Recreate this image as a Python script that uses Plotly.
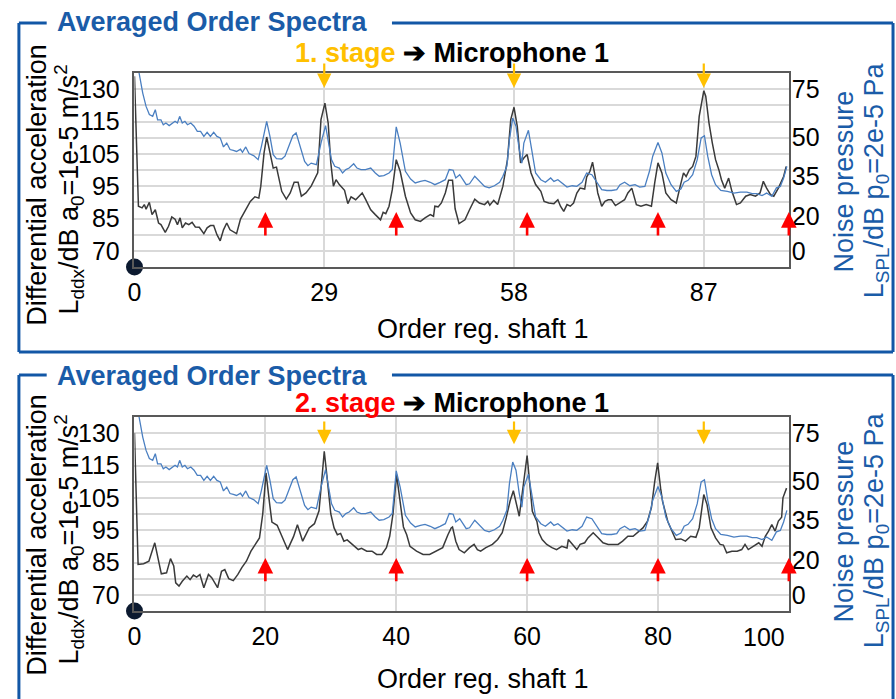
import plotly.graph_objects as go

# ---------------- data ----------------
# Noise pressure, Microphone 1 (right axis units), shared by both panels
noise_order = [0.7, 1.26, 1.77, 2.27, 2.78, 3.18, 3.53, 4.04, 4.4, 4.8, 5.3, 5.8, 6.2, 6.56, 6.9, 7.3, 7.7, 8.1, 8.6, 9.1,
               9.6, 10.1, 10.6, 11.1, 11.6, 12.1, 12.6, 13.1, 13.6, 14.1, 14.6, 15.1, 15.6, 16.2, 16.5, 17.0, 17.5, 18.2, 18.9, 19.4,
               20.2, 20.7, 21.2, 21.7, 22.5, 23.0, 23.6, 24.2, 24.7, 25.2, 26.0, 26.5, 27.0, 27.8, 28.5, 29.2, 29.6, 30.1, 30.6, 31.3,
               31.8, 32.3, 32.8, 33.5, 34.0, 34.6, 35.3, 36.1, 36.8, 37.4, 38.1, 38.9, 39.4, 40.0, 40.6, 41.4, 42.2, 42.9, 43.7, 44.4,
               45.2, 45.9, 46.7, 47.5, 48.1, 48.7, 49.1, 49.7, 50.7, 51.2, 52.0, 52.7, 53.5, 54.2, 55.0, 55.8, 56.3, 56.9, 57.3, 57.8,
               58.3, 58.8, 59.2, 59.5, 60.2, 60.7, 61.3, 62.1, 62.8, 63.6, 64.1, 64.7, 65.3, 66.1, 66.9, 67.6, 68.4, 69.1, 69.9, 70.7,
               71.4, 72.2, 72.9, 73.7, 74.2, 74.9, 75.7, 76.5, 77.2, 78.0, 78.7, 79.2, 80.0, 80.6, 81.2, 82.0, 82.8, 83.5, 84.0, 84.6,
               85.3, 86.0, 86.6, 87.1, 87.6, 88.2, 88.8, 89.6, 90.6, 91.6, 92.6, 93.6, 94.4, 95.1, 95.9, 96.6, 97.4, 98.1, 98.7, 99.2, 99.7]
noise_spl = [82.5, 73.2, 67.0, 63.2, 62.4, 65.5, 60.8, 60.8, 58.5, 59.3, 58.1, 59.3, 60.1, 59.3, 62.4, 59.3, 60.1, 58.5, 59.3, 57.8,
             55.4, 55.4, 53.1, 55.0, 53.1, 55.0, 53.1, 52.4, 48.2, 50.0, 47.0, 46.6, 46.1, 47.2, 45.7, 48.2, 45.1, 44.2, 42.3, 48.5,
             60.1, 53.1, 44.6, 42.8, 42.6, 43.9, 48.5, 53.4, 54.7, 49.3, 41.5, 39.5, 40.7, 40.0, 50.0, 58.1, 51.6, 42.3, 39.2, 38.4,
             36.1, 37.7, 38.4, 40.4, 38.4, 37.7, 37.7, 38.4, 36.1, 34.6, 34.9, 36.1, 37.7, 57.5, 50.0, 36.9, 33.3, 31.5, 32.2, 32.7,
             31.8, 30.7, 31.8, 33.0, 37.7, 37.4, 33.8, 35.3, 30.7, 31.1, 34.6, 32.2, 29.9, 29.2, 30.2, 31.8, 34.6, 39.2, 51.6, 61.6,
             57.8, 47.0, 40.7, 50.0, 55.9, 47.0, 36.1, 33.0, 31.8, 33.8, 32.2, 33.0, 31.5, 29.6, 30.2, 29.9, 31.8, 36.1, 35.3, 31.5,
             28.4, 28.0, 28.0, 28.4, 30.7, 31.8, 30.2, 30.7, 29.6, 29.9, 36.9, 43.9, 50.3, 45.4, 36.1, 30.7, 27.6, 28.7, 31.8, 32.7,
             35.3, 42.3, 52.4, 53.4, 43.9, 35.3, 30.7, 28.0, 27.6, 26.8, 27.2, 27.2, 26.5, 26.5, 25.6, 26.8, 25.3, 29.2, 29.9, 33.8, 39.2]

# Differential acceleration, 1. stage (left axis, dB)
stage1_order = [0.0, 0.6, 1.16, 1.5, 1.77, 2.27, 2.68, 3.18, 3.68, 4.04, 4.7, 5.2, 5.7, 6.2, 6.56, 6.97, 7.3, 7.8, 8.3, 8.8,
                9.3, 9.9, 10.6, 11.1, 11.6, 12.1, 12.6, 13.1, 13.6, 14.1, 14.6, 15.1, 15.6, 16.2, 16.9, 17.7, 18.4, 19.0, 19.3, 19.8,
                20.2, 20.7, 21.2, 21.7, 22.1, 22.5, 23.2, 23.8, 24.4, 25.0, 25.5, 26.2, 27.0, 28.0, 28.5, 29.1, 29.6, 30.0, 30.4, 30.8,
                31.3, 32.1, 32.6, 33.1, 33.8, 34.3, 34.8, 35.3, 36.1, 36.8, 37.6, 38.0, 38.4, 38.9, 39.4, 40.0, 40.6, 41.4, 42.2, 42.9,
                43.7, 44.4, 45.2, 45.7, 45.9, 46.4, 46.9, 47.5, 48.0, 48.6, 49.0, 49.6, 50.5, 51.2, 52.0, 52.7, 53.5, 54.0, 54.3, 54.9,
                55.5, 56.3, 57.0, 57.5, 58.0, 58.5, 59.0, 59.5, 60.0, 60.6, 61.3, 62.1, 62.6, 63.3, 64.1, 64.7, 65.1, 65.6, 66.1, 66.6,
                67.1, 67.6, 68.1, 68.8, 69.1, 69.6, 70.0, 70.4, 70.8, 71.4, 71.9, 72.4, 72.9, 73.5, 74.2, 74.9, 75.4, 76.0, 76.7, 77.4,
                78.2, 79.0, 79.5, 80.0, 80.6, 81.2, 82.0, 82.8, 83.4, 83.9, 84.3, 84.8, 85.3, 85.8, 86.3, 87.0, 87.3, 87.8, 88.3, 88.8,
                89.3, 89.7, 90.2, 90.8, 91.3, 92.0, 92.6, 93.4, 94.1, 94.9, 95.6, 96.1, 96.6, 97.2, 97.7, 98.4, 99.2, 99.6]
stage1_acc = [129.0, 88.8, 88.3, 89.3, 87.9, 90.0, 86.2, 87.7, 83.6, 83.1, 80.7, 82.6, 85.5, 84.8, 83.1, 85.2, 82.1, 83.6, 83.1, 83.8,
              82.4, 82.3, 80.3, 82.1, 82.8, 82.8, 80.0, 78.1, 81.5, 83.6, 81.5, 81.0, 80.3, 84.8, 87.2, 90.3, 91.7, 91.3, 95.0, 105.3,
              110.2, 105.3, 100.6, 100.9, 97.0, 93.4, 91.0, 92.9, 96.2, 96.2, 91.9, 92.9, 95.0, 99.1, 115.6, 120.7, 114.5, 102.2, 95.0, 97.0,
              95.5, 93.7, 89.6, 91.7, 90.8, 91.7, 92.9, 91.0, 87.7, 86.2, 84.6, 86.9, 86.5, 88.8, 93.9, 103.2, 99.6, 91.9, 86.7, 84.6,
              84.1, 85.2, 86.2, 85.7, 88.8, 88.6, 89.8, 92.9, 96.8, 96.8, 88.0, 83.4, 84.6, 87.7, 91.0, 89.8, 89.3, 90.3, 89.1, 90.6,
              89.3, 95.0, 103.2, 115.6, 119.4, 113.5, 102.2, 103.7, 104.8, 99.1, 95.5, 93.4, 90.3, 89.8, 89.6, 90.8, 88.8, 87.2, 89.3, 88.8,
              89.8, 92.9, 94.4, 94.1, 97.8, 99.6, 102.4, 98.0, 92.9, 88.8, 90.3, 90.8, 90.8, 89.0, 89.8, 90.8, 92.9, 94.4, 89.3, 88.8,
              89.3, 88.8, 96.0, 102.2, 99.1, 92.9, 90.8, 89.8, 95.0, 99.1, 98.0, 100.1, 101.1, 104.2, 116.6, 124.5, 122.8, 114.5, 108.4, 103.2,
              100.1, 97.0, 94.4, 97.5, 93.4, 89.3, 89.8, 91.9, 92.4, 91.9, 92.9, 96.5, 94.4, 92.4, 91.9, 94.4, 98.0, 101.1]

# Differential acceleration, 2. stage (left axis, dB)
stage2_order = [0.0, 0.55, 1.4, 2.2, 3.1, 3.7, 4.1, 4.9, 5.5, 6.0, 6.3, 6.8, 7.3, 8.0, 8.5, 9.0, 9.5, 10.0, 10.6, 11.3,
                11.8, 12.7, 13.3, 13.8, 14.4, 15.1, 15.8, 16.4, 17.1, 17.8, 18.6, 19.1, 19.6, 20.1, 20.6, 21.0, 21.8, 22.5, 23.4, 24.3,
                24.9, 25.7, 26.7, 27.5, 28.2, 28.6, 29.0, 29.5, 30.0, 30.5, 31.0, 31.5, 32.0, 32.5, 33.0, 33.7, 34.2, 34.7, 35.5, 36.3,
                37.0, 37.8, 38.5, 39.0, 39.5, 40.05, 40.6, 41.1, 41.6, 42.1, 43.1, 44.1, 45.1, 46.1, 47.1, 47.9, 48.4, 48.6, 49.1, 49.6,
                50.4, 51.2, 51.9, 52.4, 52.9, 53.7, 54.7, 55.5, 56.2, 56.8, 57.4, 57.9, 58.8, 60.0, 60.8, 61.5, 61.8, 62.3, 63.0, 63.8,
                64.5, 65.3, 66.1, 66.3, 66.8, 67.6, 68.1, 68.8, 69.3, 70.1, 70.9, 71.6, 72.4, 73.1, 73.9, 74.6, 75.4, 76.2, 76.9, 77.7,
                78.4, 79.0, 79.5, 79.95, 80.4, 80.7, 81.5, 82.0, 82.7, 83.5, 84.2, 85.0, 85.8, 86.3, 86.6, 87.0, 87.5, 88.1, 88.8, 89.5,
                90.0, 90.5, 91.3, 92.1, 92.8, 93.3, 93.8, 94.6, 95.4, 95.9, 96.4, 96.9, 97.4, 97.9, 98.4, 98.9, 99.1, 99.65]
stage2_acc = [125.0, 84.4, 84.6, 85.4, 91.1, 85.4, 81.5, 81.8, 86.2, 83.9, 78.7, 77.7, 79.2, 80.8, 79.7, 81.1, 80.5, 81.3, 77.2, 81.3,
              80.3, 77.2, 82.3, 82.8, 80.0, 79.4, 81.3, 83.4, 85.4, 88.5, 91.1, 92.6, 100.0, 112.7, 104.0, 97.5, 96.5, 93.0, 89.0, 93.0,
              96.7, 91.6, 95.7, 97.0, 101.0, 110.0, 119.4, 110.0, 100.0, 95.7, 93.6, 94.0, 91.6, 92.0, 91.1, 90.0, 89.0, 89.4, 88.5, 88.5,
              87.5, 87.5, 89.6, 93.1, 100.0, 112.2, 103.0, 96.0, 93.6, 90.0, 88.5, 87.5, 87.5, 88.5, 89.6, 93.6, 95.7, 96.0, 91.6, 89.0,
              88.0, 89.6, 90.6, 89.0, 88.5, 89.6, 90.6, 92.1, 94.2, 98.8, 104.0, 107.2, 99.3, 118.1, 100.8, 97.7, 94.2, 92.1, 90.6, 89.6,
              89.0, 90.0, 89.5, 92.1, 91.0, 89.0, 90.6, 91.1, 92.6, 94.2, 92.6, 91.1, 90.6, 90.6, 90.6, 91.6, 93.1, 93.1, 94.2, 95.7,
              97.8, 102.0, 110.0, 115.8, 108.0, 103.9, 97.7, 95.2, 92.1, 92.3, 91.6, 93.1, 92.8, 95.7, 100.8, 106.0, 102.9, 95.7, 92.6, 90.6,
              90.4, 88.0, 88.5, 88.5, 89.0, 90.6, 89.0, 90.0, 91.1, 90.0, 93.1, 94.7, 96.7, 94.7, 97.8, 99.0, 105.0, 108.0]

# Tick labels and marked orders
top_xticks = [0, 29, 58, 87]
bottom_xticks = [0, 20, 40, 60, 80]
left_tickvals = [75, 85, 95, 105, 115, 125]
left_ticktext = ["70", "85", "95", "105", "115", "130"]
right_tickvals = [75, 52.5, 34.5, 16, 0]
right_ticktext = ["75", "50", "35", "20", "0"]
stage1_marks = [29, 58, 87]          # orange arrows
gear_marks = [20, 40, 60, 80, 100]   # red arrows

# ---------------- styling ----------------
W, H = 896, 699
FONT = "Liberation Sans, Arial, sans-serif"
FRAME = "#1257a6"
TITLE_BLUE = "#1a5ca8"
GRID = "#d9d9d9"
AXLINE = "#595959"
BLACK_LINE = "#3a3a3a"
BLUE_LINE = "#4a7fc1"
ORANGE = "#ffc000"
RED = "#ff0000"


def px(x):
    return x / W


def py(y):
    return 1 - y / H


x_dom = [px(128.5), px(788)]
top_dom = [py(267), py(73)]
bot_dom = [py(611), py(417)]

fig = go.Figure()

# top panel
fig.add_trace(go.Scatter(x=noise_order, y=noise_spl, xaxis="x", yaxis="y2", mode="lines",
                         line=dict(color=BLUE_LINE, width=1.3), showlegend=False))
fig.add_trace(go.Scatter(x=stage1_order, y=stage1_acc, xaxis="x", yaxis="y", mode="lines",
                         line=dict(color=BLACK_LINE, width=1.5), showlegend=False))
fig.add_trace(go.Scatter(x=[0], y=[70], xaxis="x", yaxis="y", mode="markers", cliponaxis=False,
                         marker=dict(size=17, color="#0c1a30"), showlegend=False))
# bottom panel
fig.add_trace(go.Scatter(x=noise_order, y=noise_spl, xaxis="x2", yaxis="y4", mode="lines",
                         line=dict(color=BLUE_LINE, width=1.3), showlegend=False))
fig.add_trace(go.Scatter(x=stage2_order, y=stage2_acc, xaxis="x2", yaxis="y3", mode="lines",
                         line=dict(color=BLACK_LINE, width=1.5), showlegend=False))
fig.add_trace(go.Scatter(x=[0], y=[70], xaxis="x2", yaxis="y3", mode="markers", cliponaxis=False,
                         marker=dict(size=17, color="#0c1a30"), showlegend=False))

tickfont = dict(family=FONT, size=25, color="#000000")


def xaxis_cfg(anchor, tickvals):
    return dict(domain=x_dom, anchor=anchor, range=[0, 100], tickvals=tickvals,
                showgrid=True, gridcolor=GRID, gridwidth=1.5, zeroline=False,
                showline=True, mirror=True, linecolor=AXLINE, linewidth=1.5,
                ticks="", tickfont=tickfont, ticklabelstandoff=2, fixedrange=True)


def yaxis_cfg(anchor, dom):
    return dict(domain=dom, anchor=anchor, range=[70, 130], tickvals=left_tickvals, ticktext=left_ticktext,
                showgrid=True, gridcolor=GRID, gridwidth=1.5, zeroline=False,
                minor=dict(tick0=70, dtick=5, showgrid=True, gridcolor=GRID, gridwidth=1.5, ticks=""),
                showline=True, mirror=True, linecolor=AXLINE, linewidth=1.5,
                ticks="", tickfont=tickfont, ticklabelstandoff=8)


def y2_cfg(anchor, overlay):
    return dict(overlaying=overlay, anchor=anchor, side="right", range=[-7.5, 82.5],
                tickvals=right_tickvals, ticktext=right_ticktext, showgrid=False, zeroline=False,
                showline=False, ticks="", tickfont=tickfont, ticklabelstandoff=2)


fig.update_layout(
    width=W, height=H, margin=dict(l=0, r=0, t=0, b=0),
    paper_bgcolor="white", plot_bgcolor="white", showlegend=False,
    font=dict(family=FONT, color="#000000"),
    xaxis=xaxis_cfg("y", top_xticks),
    yaxis=yaxis_cfg("x", top_dom),
    yaxis2=y2_cfg("x", "y"),
    xaxis2=xaxis_cfg("y3", bottom_xticks),
    yaxis3=yaxis_cfg("x2", bot_dom),
    yaxis4=y2_cfg("x2", "y3"),
)

# ---------------- frames ----------------
shapes = []
def seg(x0, y0, x1, y1):
    shapes.append(dict(type="line", xref="paper", yref="paper", x0=px(x0), y0=py(y0), x1=px(x1), y1=py(y1),
                       line=dict(color=FRAME, width=3)))

for top, bottom in [(23, 352), (375, 702)]:
    seg(12, top, 40, top)
    seg(388, top, 893, top)
    seg(12, top, 12, bottom)
    seg(893, top, 893, bottom)
    if bottom < H:
        seg(12, bottom, 893, bottom)
fig.update_layout(shapes=shapes)

# ---------------- texts ----------------
ann = []
def text(x, y, s, size, color="#000000", angle=0, xanchor="center"):
    ann.append(dict(xref="paper", yref="paper", x=px(x), y=py(y), text=s, showarrow=False,
                    textangle=angle, xanchor=xanchor, yanchor="middle",
                    font=dict(family=FONT, size=size, color=color)))

panels = [
    dict(off=0, stage="1. stage", stage_color=ORANGE, sub_y=53, title_y=22),
    dict(off=350, stage="2. stage", stage_color=RED, sub_y=403, title_y=376),
]
for p in panels:
    o = p["off"]
    text(48, p["title_y"], "<b>Averaged Order Spectra</b>", 27, TITLE_BLUE, xanchor="left")
    text(448, p["sub_y"], f"<b><span style='color:{p['stage_color']}'>{p['stage']}</span> ➔ Microphone 1</b>", 27)
    text(30, 185 + o, "Differential acceleration", 27, angle=-90)
    text(62, 190 + o, "L<sub>ddx</sub>/dB a<sub>0</sub>=1e-5 m/s<sup>2</sup>", 27, angle=-90)
    text(844, 181 + o, "Noise pressure", 27, TITLE_BLUE, angle=-90)
    text(876, 180 + o, "L<sub>SPL</sub>/dB p<sub>0</sub>=2e-5 Pa", 27, TITLE_BLUE, angle=-90)
    text(480, 329 + o, "Order reg. shaft 1", 27)

# shifted last tick label of the lower axis
ann.append(dict(xref="x2", yref="paper", x=96.2, y=py(637), text="100", showarrow=False,
                xanchor="center", yanchor="middle", font=tickfont))

# ---------------- arrows ----------------
def arrow(xr, yr, x, head, tail, color, width, size):
    ann.append(dict(xref=xr, yref=yr, axref=xr, ayref=yr, x=x, y=head, ax=x, ay=tail, text="",
                    showarrow=True, arrowhead=2, arrowsize=size, arrowwidth=width, arrowcolor=color,
                    standoff=0, startstandoff=0))

for o in stage1_marks:
    arrow("x", "y", o, 125.4, 133.4, ORANGE, 2.2, 1.3)
    arrow("x2", "y3", o, 121.6, 129.1, ORANGE, 2.2, 1.3)
for o in gear_marks:
    arrow("x", "y", o, 87.0, 79.3, RED, 2.6, 1.2)
    arrow("x2", "y3", o, 86.4, 78.7, RED, 2.6, 1.2)

fig.update_layout(annotations=ann)

fig.write_html("out.html")
